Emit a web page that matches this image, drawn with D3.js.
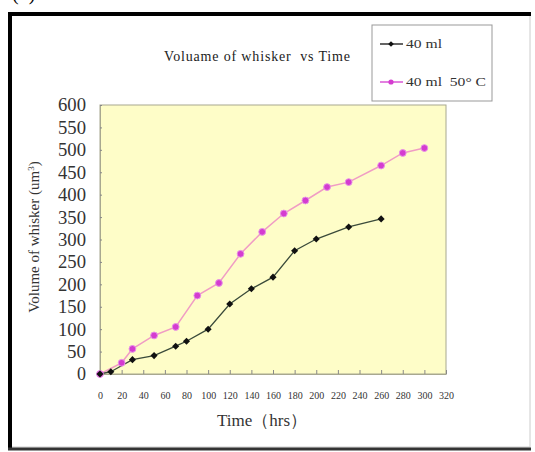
<!DOCTYPE html>
<html>
<head>
<meta charset="utf-8">
<script src="https://cdn.jsdelivr.net/npm/d3@7"></script>
<style>
  body { margin: 0; background: #fff; }
  svg { display: block; font-family: "Liberation Serif", "DejaVu Serif", serif; }
</style>
</head>
<body>
<div id="chart"></div>
<script>
// Data
var seriesNames = ["40 ml", "40 ml  50\u00b0 C"];
var timeA = [0, 10, 30, 50, 70, 80, 100, 120, 140, 160, 180, 200, 230, 260];
var volA  = [0, 5, 32, 41, 62, 73, 100, 156, 190, 216, 275, 301, 328, 346];
var timeB = [0, 20, 30, 50, 70, 90, 110, 130, 150, 170, 190, 210, 230, 260, 280, 300];
var volB  = [0, 25, 56, 86, 105, 175, 203, 268, 317, 358, 387, 417, 428, 465, 493, 504];
var xTicks = d3.range(0, 321, 20);
var yTicks = d3.range(0, 601, 50);

function createChart() {
    var W = 535, H = 452;
    var plot = { left: 100, right: 446, top: 105, bottom: 374 };

    var svg = d3.select("#chart").append("svg")
        .attr("width", W)
        .attr("height", H);

    // frame
    svg.append("rect").attr("x", 10).attr("y", 14).attr("width", 520).attr("height", 433)
        .attr("fill", "#fff").attr("stroke", "#ccc").attr("stroke-width", 1);
    svg.append("line").attr("x1", 8).attr("x2", 531).attr("y1", 14).attr("y2", 14)
        .attr("stroke", "#000").attr("stroke-width", 4);
    svg.append("line").attr("x1", 10).attr("x2", 10).attr("y1", 12).attr("y2", 450)
        .attr("stroke", "#000").attr("stroke-width", 4);
    svg.append("line").attr("x1", 8).attr("x2", 531).attr("y1", 449).attr("y2", 449)
        .attr("stroke", "#333").attr("stroke-width", 3);

    // "(b)" label, cut by the top edge as in the source
    svg.append("text").attr("x", 12).attr("y", 0)
        .attr("font-size", 20).text("(b)");

    var x = d3.scaleLinear().domain([0, 320]).range([plot.left, plot.right]);
    var y = d3.scaleLinear().domain([0, 600]).range([plot.bottom, plot.top]);

    svg.append("rect")
        .attr("x", plot.left).attr("y", plot.top)
        .attr("width", plot.right - plot.left).attr("height", plot.bottom - plot.top)
        .attr("fill", "#fefdc8").attr("stroke", "#a8a890").attr("stroke-width", 1);

    // y axis
    var yAxis = svg.append("g")
        .attr("transform", "translate(" + plot.left + ",0)")
        .call(d3.axisLeft(y).tickValues(yTicks).tickSize(3).tickSizeOuter(0).tickPadding(11));
    yAxis.select(".domain").attr("stroke", "#a8a890");
    yAxis.selectAll(".tick line").attr("stroke", "#888").attr("x2", 2);
    yAxis.selectAll(".tick text")
        .attr("font-family", "Liberation Serif").attr("font-size", 18).attr("fill", "#333")
        .attr("dy", "0.33em")
        .attr("textLength", function (d) { return d >= 100 ? 28 : (d >= 10 ? 19 : 9); })
        .attr("lengthAdjust", "spacingAndGlyphs");

    // x axis
    var xAxis = svg.append("g")
        .attr("transform", "translate(0," + plot.bottom + ")")
        .call(d3.axisBottom(x).tickValues(xTicks).tickSize(-4).tickSizeOuter(0).tickPadding(18));
    xAxis.select(".domain").attr("stroke", "#a8a890");
    xAxis.selectAll(".tick line").attr("stroke", "#888");
    xAxis.selectAll(".tick text")
        .attr("font-family", "Liberation Serif").attr("font-size", 10).attr("fill", "#333");

    // lines
    var lineA = d3.line().x(function (d, i) { return x(timeA[i]); }).y(function (d) { return y(d); });
    var lineB = d3.line().x(function (d, i) { return x(timeB[i]); }).y(function (d) { return y(d); });

    svg.append("path").attr("d", lineB(volB))
        .attr("fill", "none").attr("stroke", "#f09cc4").attr("stroke-width", 1.5);
    svg.append("path").attr("d", lineA(volA))
        .attr("fill", "none").attr("stroke", "#3a4a3a").attr("stroke-width", 1.3);

    svg.selectAll("circle.b").data(volB).enter().append("circle")
        .attr("class", "b")
        .attr("cx", function (d, i) { return x(timeB[i]); })
        .attr("cy", function (d) { return y(d); })
        .attr("r", 3.4)
        .attr("fill", "#d43cd0").attr("stroke", "#e890e8").attr("stroke-width", 1);

    svg.selectAll("rect.a").data(volA).enter().append("rect")
        .attr("class", "a")
        .attr("x", function (d, i) { return x(timeA[i]) - 2.5; })
        .attr("y", function (d) { return y(d) - 2.5; })
        .attr("width", 5).attr("height", 5)
        .attr("transform", function (d, i) { return "rotate(45," + x(timeA[i]) + "," + y(d) + ")"; })
        .attr("fill", "#111");

    // titles
    svg.append("text").attr("x", 257).attr("y", 61).attr("text-anchor", "middle")
        .attr("font-size", 14).attr("fill", "#222").attr("xml:space", "preserve")
        .attr("textLength", 186).attr("lengthAdjust", "spacing")
        .text("Voluame of whisker  vs Time");

    svg.append("text").attr("x", 262).attr("y", 426).attr("text-anchor", "middle")
        .attr("font-size", 17).attr("fill", "#333")
        .text("Time\uff08hrs\uff09");

    svg.append("text")
        .attr("transform", "translate(39,237) rotate(-90)")
        .attr("text-anchor", "middle").attr("font-size", 15).attr("fill", "#333")
        .html("Volume of whisker (um<tspan baseline-shift='super' font-size='9'>3</tspan>)");

    // legend
    var lg = svg.append("g");
    lg.append("rect").attr("x", 372).attr("y", 25).attr("width", 120).attr("height", 76)
        .attr("fill", "#fff").attr("stroke", "#999").attr("stroke-width", 1);
    var legendColors = ["#111", "#d43cd0"];
    var legendY = [44, 82];
    var legendLen = [36, 80];
    seriesNames.forEach(function (name, i) {
        lg.append("line").attr("x1", 380).attr("x2", 403)
            .attr("y1", legendY[i]).attr("y2", legendY[i])
            .attr("stroke", legendColors[i]).attr("stroke-width", 1.3);
        if (i === 0) {
            lg.append("rect").attr("x", 389).attr("y", legendY[i] - 2).attr("width", 4).attr("height", 4)
                .attr("transform", "rotate(45,391," + legendY[i] + ")").attr("fill", "#111");
        } else {
            lg.append("circle").attr("cx", 391).attr("cy", legendY[i]).attr("r", 2.6)
                .attr("fill", legendColors[i]);
        }
        lg.append("text").attr("x", 406).attr("y", legendY[i] + 4)
            .attr("font-size", 13).attr("fill", "#333")
            .attr("xml:space", "preserve")
            .attr("textLength", legendLen[i]).attr("lengthAdjust", "spacingAndGlyphs")
            .text(name);
    });
}

createChart();
</script>
</body>
</html>
